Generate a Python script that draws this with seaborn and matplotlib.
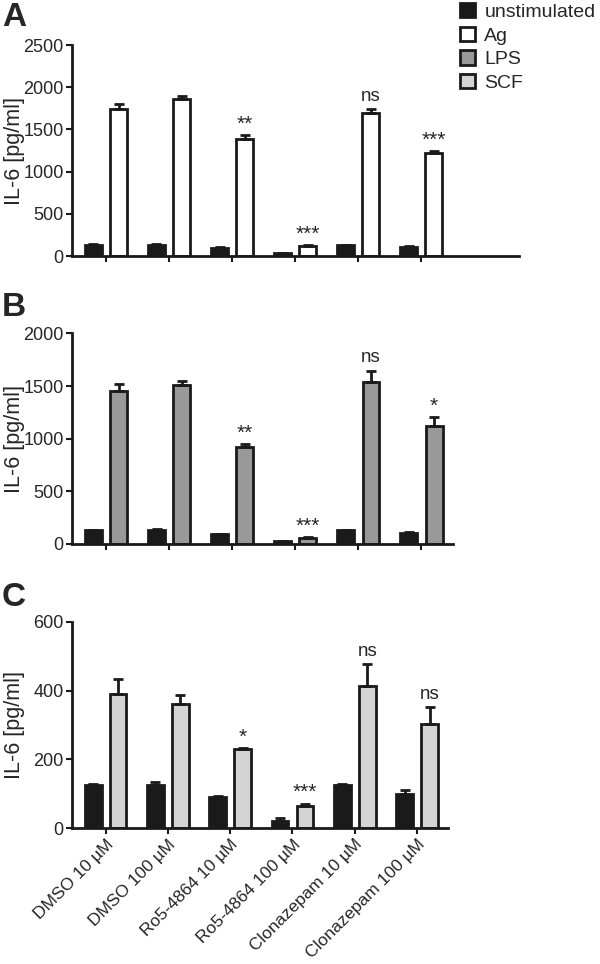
import matplotlib
matplotlib.use('Agg')
import matplotlib.pyplot as plt
from matplotlib.patches import Patch
import numpy as np
import pandas as pd
import seaborn as sns

treatments = ["DMSO 10 µM", "DMSO 100 µM", "Ro5-4864 10 µM", "Ro5-4864 100 µM",
              "Clonazepam 10 µM", "Clonazepam 100 µM"]

# panel A: Ag stimulation
unstim_a = [134, 134, 99, 32, 130, 110]
unstim_a_err = [5, 8, 4, 3, 5, 5]
ag = [1745, 1856, 1382, 118, 1698, 1220]
ag_err = [52, 40, 52, 16, 47, 20]
ag_marks = ["", "", "**", "***", "ns", "***"]

# panel B: LPS stimulation
unstim_b = [133, 133, 95, 28, 133, 104]
unstim_b_err = [4, 5, 3, 3, 4, 6]
lps = [1456, 1509, 924, 54, 1538, 1120]
lps_err = [63, 38, 28, 9, 108, 83]
lps_marks = ["", "", "**", "***", "ns", "*"]

# panel C: SCF stimulation
unstim_c = [126, 126, 92, 21, 126, 100]
unstim_c_err = [2, 10, 3, 10, 2, 11]
scf = [390, 362, 230, 66, 413, 303]
scf_err = [43, 26, 2, 6, 65, 50]
scf_marks = ["", "", "*", "***", "ns", "ns"]

colors = {"unstimulated": "#1a1a1a", "Ag": "#ffffff", "LPS": "#999999", "SCF": "#d4d4d4"}
edge = "#1a1a1a"

sns.set_style("ticks")
plt.rcParams['font.family'] = ['Liberation Sans', 'DejaVu Sans']


def draw_panel(ax, unstim, unstim_err, stim, stim_err, stim_name, marks, ymax, ystep, xmax):
    df = pd.DataFrame({"treatment": treatments * 2,
                       "IL6": unstim + stim,
                       "stim": ["unstimulated"] * 6 + [stim_name] * 6})
    sns.barplot(data=df, x="treatment", y="IL6", hue="stim", palette=colors,
                width=0.8, gap=0.33, errorbar=None, edgecolor=edge, linewidth=2,
                saturation=1, legend=False, ax=ax)
    for bars, errs in zip(ax.containers, [unstim_err, stim_err]):
        xs = [b.get_x() + b.get_width() / 2 for b in bars]
        hs = [b.get_height() for b in bars]
        ax.errorbar(xs, hs, yerr=[np.zeros(len(errs)), errs], fmt='none', ecolor=edge,
                    elinewidth=2, capsize=3.5, capthick=2, zorder=1)
    stim_bars = ax.containers[1]
    for b, e, m in zip(stim_bars, stim_err, marks):
        if m:
            star = m.startswith("*")
            ax.annotate(m, (b.get_x() + b.get_width() / 2, b.get_height() + e),
                        xytext=(0, 1 if star else 3), textcoords='offset points',
                        ha='center', va='bottom', fontsize=15 if star else 13.5)
    ax.set_ylim(0, ymax)
    ax.set_yticks(np.arange(0, ymax + 1, ystep))
    ax.set_xlim(-0.54, xmax)
    ax.set_xlabel("")
    ax.set_ylabel("IL-6 [pg/ml]", fontsize=15.5)
    ax.yaxis.set_label_coords(-47 / (ax.get_position().width * 600), 0.5)
    sns.despine(ax=ax)
    for s in ["left", "bottom"]:
        ax.spines[s].set_linewidth(2)
        ax.spines[s].set_color(edge)
    ax.tick_params(axis='both', length=4, width=1.5, color=edge, labelsize=13, pad=2)


fig = plt.figure(figsize=(6, 9.64), dpi=100)
ax_a = fig.add_axes([0.12, 0.7344, 0.745, 0.2189])
ax_b = fig.add_axes([0.12, 0.4357, 0.635, 0.2185])
ax_c = fig.add_axes([0.12, 0.1407, 0.627, 0.2144])

draw_panel(ax_a, unstim_a, unstim_a_err, ag, ag_err, "Ag", ag_marks, 2500, 500, 6.55)
draw_panel(ax_b, unstim_b, unstim_b_err, lps, lps_err, "LPS", lps_marks, 2000, 500, 5.5)
draw_panel(ax_c, unstim_c, unstim_c_err, scf, scf_err, "SCF", scf_marks, 600, 200, 5.5)

ax_a.set_xticklabels([])
ax_b.set_xticklabels([])
ax_c.set_xticklabels(treatments, rotation=45, ha='right', rotation_mode='anchor', fontsize=12.5)

fig.text(0.003, 1 - 18 / 964, "A", fontsize=24, fontweight='bold', va='center')
fig.text(0.003, 1 - 308 / 964, "B", fontsize=24, fontweight='bold', va='center')
fig.text(0.003, 1 - 598 / 964, "C", fontsize=24, fontweight='bold', va='center')

handles = [Patch(facecolor=colors[k], edgecolor=edge, linewidth=2, label=k)
           for k in ["unstimulated", "Ag", "LPS", "SCF"]]
fig.legend(handles=handles, loc='upper left', bbox_to_anchor=(460 / 600, 1 - 3 / 964),
           frameon=False, fontsize=14, handlelength=0.75, handleheight=0.75,
           handletextpad=0.5, labelspacing=0.3, borderpad=0, borderaxespad=0)

fig.savefig('out.png', dpi=100)
